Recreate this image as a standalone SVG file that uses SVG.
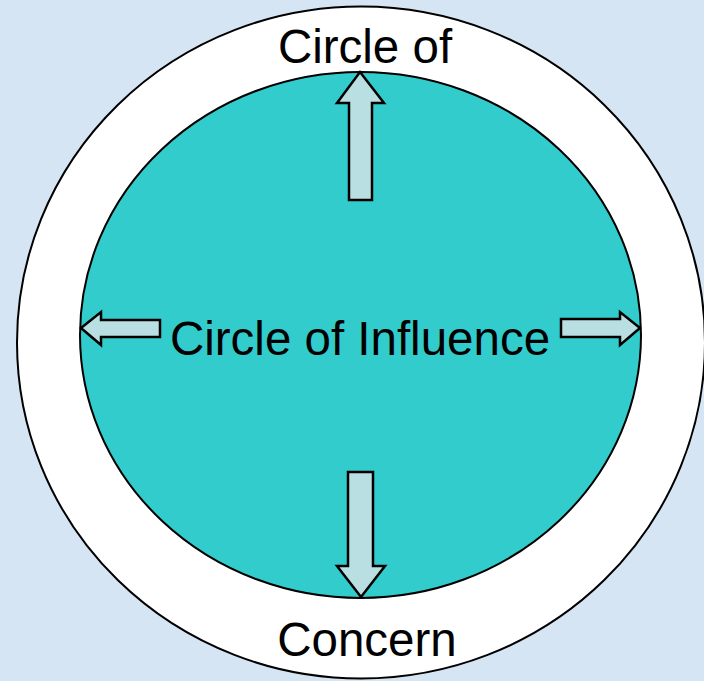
<svg xmlns="http://www.w3.org/2000/svg" width="704" height="681" viewBox="0 0 704 681">
<style>
.arrow{fill:#b9dfe2;stroke:#000;stroke-width:2.5;stroke-linejoin:miter}
.lbl{font-family:"Liberation Sans",Arial,sans-serif;font-size:47.5px;fill:#000;text-anchor:middle}
</style>
<rect width="704" height="681" fill="#d5e5f3"/>
<g id="concern">
<ellipse cx="361" cy="342.5" rx="344" ry="336" fill="#fff" stroke="#000" stroke-width="2"/>
<text class="lbl" x="365" y="63">Circle of</text>
<text class="lbl" x="367" y="656">Concern</text>
</g>
<g id="influence">
<ellipse cx="360.5" cy="335" rx="280.5" ry="263" fill="#33cccc" stroke="#000" stroke-width="2"/>
<text class="lbl" x="360" y="355">Circle of Influence</text>
</g>
<g id="connectors">
<polygon class="arrow" points="360,72 384,103 372,103 372,200 349,200 349,103 337,103"/>
<polygon class="arrow" points="361,597 385,566 373,566 373,472 348,472 348,566 337,566"/>
<polygon class="arrow" points="81,328 101,312 101,320 160,320 160,337 101,337 101,345"/>
<polygon class="arrow" points="640,328 620,312 620,319 561,319 561,337 620,337 620,345"/>
</g>
</svg>
